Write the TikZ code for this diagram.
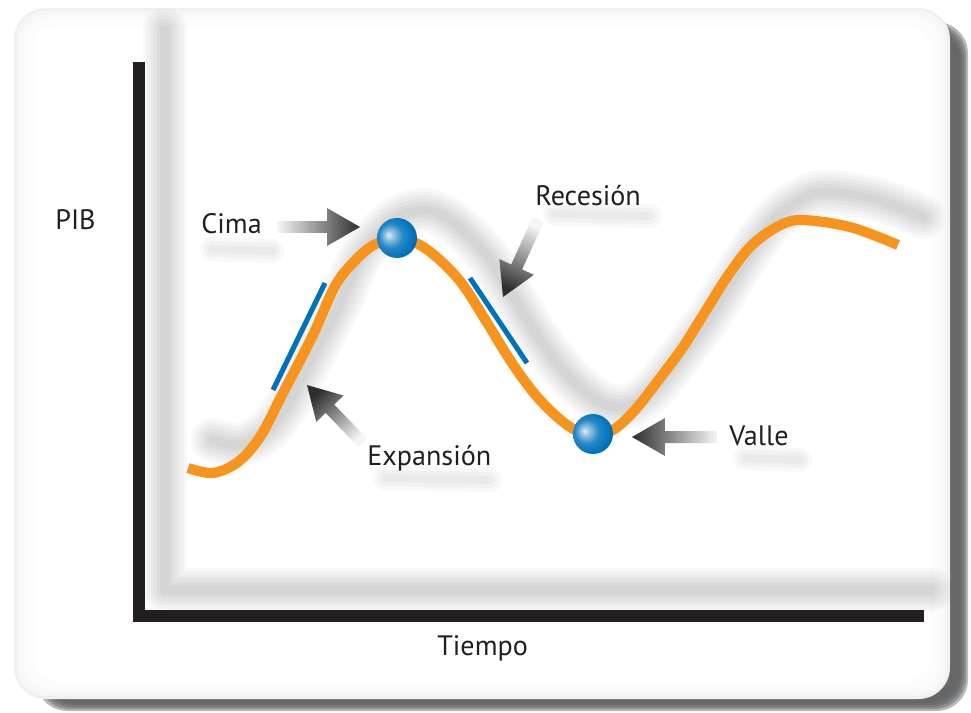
\documentclass[tikz,border=0pt]{standalone}
\usepackage{fontspec}
\setmainfont{PT Sans}
\usepackage{tikz}
\usetikzlibrary{calc}

\definecolor{gdporange}{HTML}{F7941D}
\definecolor{gdpblue}{HTML}{0072BC}
\definecolor{inkblack}{HTML}{231F20}
\definecolor{framegray}{HTML}{5F6062}
\definecolor{arrowlight}{HTML}{F6F6F6}
\definecolor{arrowdark}{HTML}{2E2E2E}

\pgfdeclareradialshading{bluesphere}{\pgfqpoint{-11bp}{4bp}}{%
  color(0bp)=(gdpblue!12!white);
  color(5bp)=(gdpblue!40!white);
  color(15bp)=(gdpblue!85!white);
  color(26bp)=(gdpblue);
  color(32bp)=(gdpblue!85!black);
  color(50bp)=(gdpblue!85!black)}

% grey block arrow: tail, tip, shading angle
\newcommand{\rampArrow}[3]{%
  \coordinate (#1-base) at ($(#2)!0.66cm!(#1)$);
  \shade[top color=arrowdark, bottom color=arrowlight, shading angle=#3]
    ($(#1)!0.12cm!90:(#2)$) -- ($(#1-base)!0.12cm!90:(#2)$)
    -- ($(#1-base)!0.38cm!90:(#2)$) -- (#2)
    -- ($(#1-base)!0.38cm!-90:(#2)$) -- ($(#1-base)!0.12cm!-90:(#2)$)
    -- ($(#1)!0.12cm!-90:(#2)$) -- cycle;
}
% soft shadow under a path
\newcommand{\blurPath}[1]{%
  \foreach \w in {44,37,30,23,16,9}{\draw[blur, line width=\w*0.57pt] #1;}
}

\begin{document}
\begin{tikzpicture}[
    x=0.02cm, y=-0.02cm,
    axisline/.style={line width=6.3pt, draw=inkblack},
    cycleline/.style={line width=5.8pt, draw=gdporange},
    phasebar/.style={line width=2.9pt, draw=gdpblue},
    turnball/.style={circle, minimum size=0.8cm, inner sep=0pt,
        shading=bluesphere},
    caption/.style={font=\fontsize{16}{18}\selectfont, text=inkblack,
        inner sep=0pt, anchor=base west},
    blur/.style={draw=black, opacity=0.028, line cap=round, line join=round}
]
\useasboundingbox (0,0) rectangle (971,713);
\fill[white] (0,0) rectangle (971,713);

% Card and its drop shadow
\foreach \i in {0,...,4}
  \fill[framegray, opacity=0.45, rounded corners=18pt]
    (36+2*\i,22+2*\i) rectangle (968-2*\i,711-2*\i);
\fill[gray!12, rounded corners=18pt] (14,8) rectangle (950,699);
\foreach \i in {1,...,5}
  \fill[white, opacity=0.4, rounded corners=16pt]
    (14+3*\i,8+3*\i) rectangle (950-3*\i,699-3*\i);
\fill[white, rounded corners=12pt] (34,28) rectangle (930,679);

% Axes
\coordinate (ytop) at (139,62);
\coordinate (origin) at (139,616);
\coordinate (xend) at (924,616);

\def\cyclepath{plot[smooth, tension=0.55] coordinates {
  (188,468) (213,473) (238,462) (260,437) (282,395) (312,337) (334,288)
  (350,266) (372,246) (397,238) (420,245) (442,262) (463,285) (486,321)
  (510,360) (533,392) (555,415) (575,430) (593,435) (613,430) (635,410)
  (660,378) (683,347) (705,312) (727,277) (750,247) (775,228) (800,220)
  (850,227) (898,245)}}

% Shadows
\blurPath{(165,30) -- (165,590) -- (930,590)}
\begin{scope}[shift={(25,-28)}]
  \blurPath{\cyclepath}
\end{scope}
\foreach \a/\b in {{(212,249)}/{(272,251)}, {(555,214)}/{(650,216)},
                   {(385,478)}/{(490,480)}, {(745,458)}/{(800,460)}}
  \foreach \w in {24,16,8}{\draw[blur, line width=\w*0.57pt] \a -- \b;}

\draw[axisline] (ytop) -- (origin) -- (xend);

% Business cycle
\draw[cycleline] \cyclepath;

\coordinate (expa) at (273,390);
\coordinate (expb) at (325,283);
\coordinate (reca) at (470,278);
\coordinate (recb) at (527,363);
\draw[phasebar] (expa) -- (expb);
\draw[phasebar] (reca) -- (recb);

\node[turnball] (peak) at (397,238) {};
\node[turnball] (trough) at (593,434) {};

% Arrows
\coordinate (cimatail) at (277,227);
\coordinate (cimatip) at (360,227);
\coordinate (recesiontail) at (538,220);
\coordinate (recesiontip) at (503,297);
\coordinate (expansiontail) at (363,443);
\coordinate (expansiontip) at (307,385);
\coordinate (valletail) at (717,437);
\coordinate (valletip) at (632,437);
\rampArrow{cimatail}{cimatip}{-90}
\rampArrow{recesiontail}{recesiontip}{155.6}
\rampArrow{expansiontail}{expansiontip}{44}
\rampArrow{valletail}{valletip}{90}

% Labels
\node[caption] (pib) at (55,230) {PIB};
\node[caption] (cima) at (201,234) {Cima};
\node[caption] (recesion) at (535,206) {Recesión};
\node[caption] (expansion) at (367,465) {Expansión};
\node[caption] (valle) at (729,445) {Valle};
\node[caption] (tiempo) at (437,655) {Tiempo};

\end{tikzpicture}
\end{document}
